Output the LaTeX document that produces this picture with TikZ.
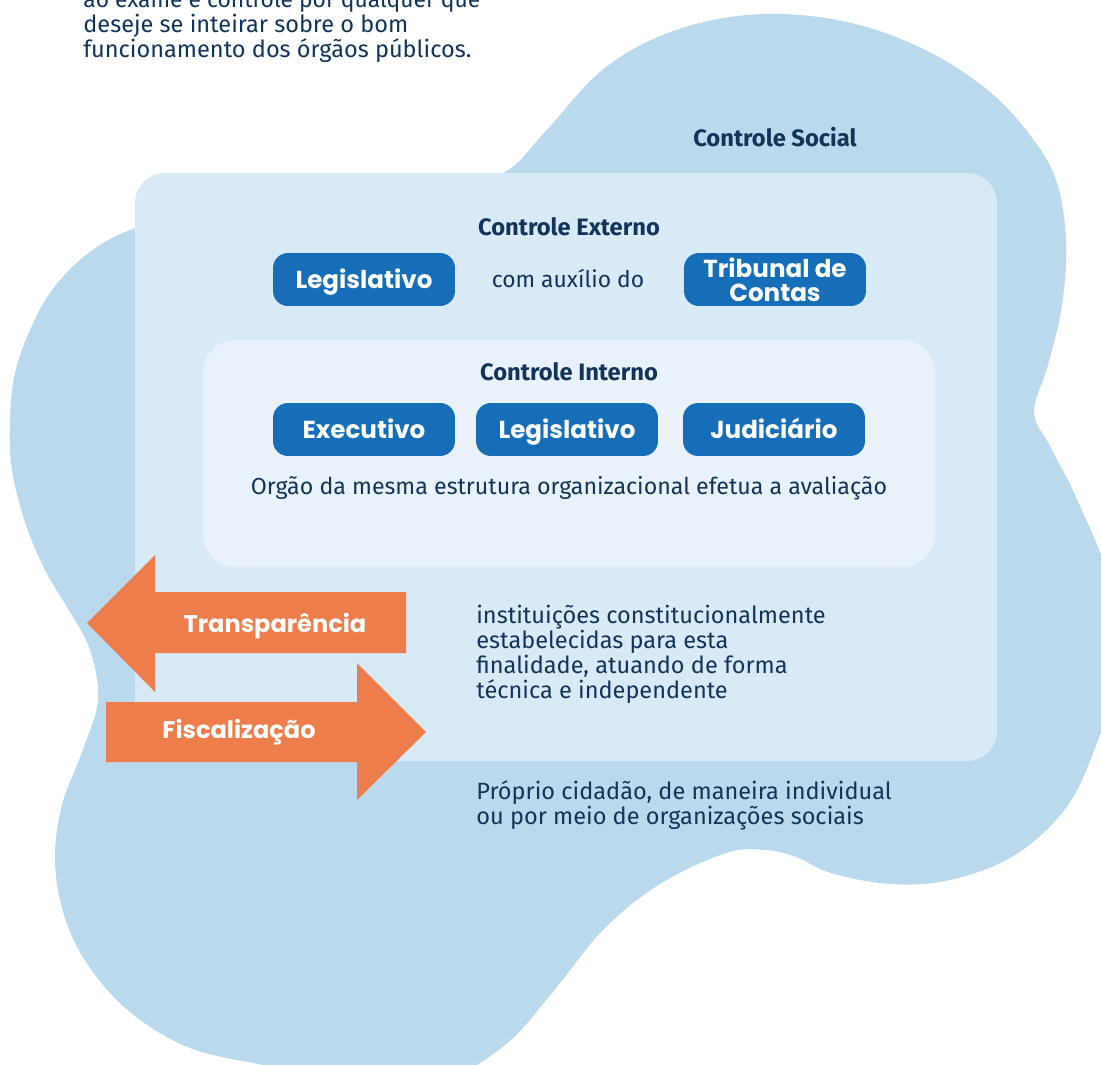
\documentclass[tikz,border=0pt]{standalone}
\usepackage{fontspec}
\setmainfont{Fira Sans}
\newfontfamily\popfont{Poppins}
\usepackage{tikz}

\definecolor{blob}{HTML}{BBD9ED}
\definecolor{ext}{HTML}{D9EAF7}
\definecolor{int}{HTML}{E9F2FA}
\definecolor{btn}{HTML}{176EB8}
\definecolor{arr}{HTML}{ED7D4A}
\definecolor{navy}{HTML}{113458}

\begin{document}
\begin{tikzpicture}[x=0.02cm,y=-0.02cm]

  \tikzset{BTN/.style={fill=btn, text=white, rounded corners=0.3cm, minimum width=3.64cm,
      minimum height=1.06cm, inner sep=0pt, align=center,
      font=\popfont\bfseries\fontsize{14}{13.6}\selectfont} }
  \tikzset{BTN1/.style={BTN, text height=9.8pt, text depth=0pt} }
  \tikzset{HEAD/.style={text=navy, inner sep=0pt, font=\bfseries\fontsize{13.5}{15}\selectfont} }
  \tikzset{TXT/.style={text=navy, inner sep=0pt, align=left, anchor=west,
      font=\fontsize{13.4}{14.2}\selectfont} }
  \tikzset{ALBL/.style={text=white, inner sep=0pt, font=\popfont\bfseries\fontsize{13.7}{14}\selectfont} }

  \path[use as bounding box, clip] (0,0) rectangle (1101,1064);

  % blob for controle social
  \fill[blob] plot[smooth cycle, tension=0.6] coordinates {
      (505,172) (545,132) (600,72) (660,36) (730,17) (800,15) (870,28) (935,55)
      (990,92) (1030,135) (1056,180) (1066,240) (1062,305) (1048,365) (1034,412)
      (1050,446) (1075,495) (1110,580) (1125,660) (1100,735) (1068,805) (1015,855)
      (950,880) (890,884) (831,873) (796,857) (765,850) (726,853) (660,884)
      (603,930) (552,993) (505,1045) (440,1082) (360,1085) (268,1066) (190,1048)
      (130,1012) (88,965) (64,915) (55,860) (62,805) (82,752) (98,700) (90,650)
      (70,612) (46,572) (26,525) (12,470) (10,420) (15,373) (30,330) (52,290)
      (86,255) (130,230) (200,212) (330,195) (450,185)
    };

  % outer and inner panels
  \fill[ext, rounded corners=0.6cm] (135,173) rectangle (997,761);
  \fill[int, rounded corners=0.65cm] (203,340) rectangle (935,567);

  \node[TXT, align=left] (t0) at (83,26) {\fontsize{13}{15.3}\selectfont ao exame e controle por qualquer que\\
      deseje se inteirar sobre o bom\\ funcionamento dos órgãos públicos.};

  \node[HEAD] (h0) at (775,137) {Controle Social};
  \node[HEAD] (h1) at (569,227) {Controle Externo};
  \node[HEAD] (h2) at (569,372) {Controle Interno};

  \node[BTN1] (e0) at (364,279.5) {Legislativo};
  \node[TXT, anchor=center, font=\fontsize{13}{15}\selectfont] (c0) at (568,278) {com auxílio do};
  \node[BTN] (e1) at (775,279.5) {Tribunal de\\Contas};

  \node[BTN1] (i0) at (364,429.5) {Executivo};
  \node[BTN1] (i1) at (567,429.5) {Legislativo};
  \node[BTN1] (i2) at (774,429.5) {Judiciário};
  \node[TXT, anchor=center, font=\fontsize{13.2}{15}\selectfont] (c1) at (569,488)
      {Orgão da mesma estrutura organizacional efetua a avaliação};

  \node[TXT] (t1) at (476,654) {instituições constitucionalmente\\ estabelecidas para esta\\
      finalidade, atuando de forma\\ técnica e independente};
  \node[TXT] (t2) at (476,805) {Próprio cidadão, de maneira individual\\ ou por meio de organizações sociais};

  % transparencia / fiscalizacao
  \fill[arr] (406,592) -- (155,592) -- (155,555) -- (87,623) -- (155,692) -- (155,653) -- (406,653) -- cycle;
  \fill[arr] (106,702) -- (357,702) -- (357,663) -- (426,732) -- (357,800) -- (357,762) -- (106,762) -- cycle;
  \node[ALBL] (a0) at (275,626) {Transparência};
  \node[ALBL] (a1) at (239,732) {Fiscalização};

\end{tikzpicture}
\end{document}
